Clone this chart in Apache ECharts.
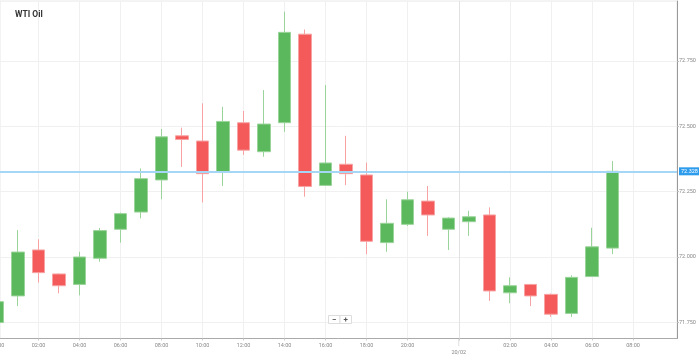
<!DOCTYPE html>
<html><head><meta charset="utf-8">
<script src="https://cdn.jsdelivr.net/npm/echarts@6/dist/echarts.min.js"></script>
<style>html,body{margin:0;padding:0;background:#fff}#c{width:699px;height:357px}</style>
</head><body><div id="c"></div>
<script>
// hourly slots (one hour missing at the session break, 22:00)
const slots = [0,1,2,3,4,5,6,7,8,9,10,11,12,13,14,15,16,17,18,19,20,21,22,23,24,25,26,27,28,29,30];
const times = ['00:00','01:00','02:00','03:00','04:00','05:00','06:00','07:00','08:00','09:00','10:00','11:00','12:00','13:00','14:00','15:00','16:00','17:00','18:00','19:00','20:00','21:00','23:00','00:00','01:00','02:00','03:00','04:00','05:00','06:00','07:00'];
const opens  = [71.749,71.851,72.027,71.935,71.895,71.995,72.106,72.172,72.295,72.464,72.444,72.325,72.514,72.403,72.514,72.853,72.274,72.355,72.314,72.055,72.125,72.214,72.106,72.135,72.161,71.863,71.895,71.857,71.784,71.925,72.034];
const closes = [71.829,72.019,71.940,71.890,72.000,72.101,72.166,72.300,72.460,72.450,72.319,72.519,72.409,72.509,72.860,72.270,72.360,72.319,72.060,72.129,72.219,72.161,72.149,72.154,71.870,71.890,71.851,71.781,71.922,72.039,72.328];
const lows   = [71.745,71.812,71.902,71.861,71.853,71.982,72.055,72.148,72.221,72.345,72.209,72.272,72.391,72.384,72.479,72.231,72.272,72.275,72.011,72.020,72.119,72.081,72.027,72.081,71.832,71.823,71.812,71.771,71.771,71.924,72.011];
const highs  = [71.835,72.103,72.068,71.937,72.020,72.111,72.170,72.339,72.490,72.495,72.588,72.575,72.559,72.639,72.939,72.871,72.658,72.464,72.361,72.221,72.250,72.272,72.152,72.177,72.190,71.922,71.897,71.860,71.930,72.112,72.367];

const xTickSlots  = [2,4,6,8,10,12,14,16,18,20,22.5,25,27,29,31];
const xTickLabels = ['02:00','04:00','06:00','08:00','10:00','12:00','14:00','16:00','18:00','20:00','20/02','02:00','04:00','06:00','08:00'];
const firstLabelSlot = 0, firstLabel = '00:00';
const yTickValues = [71.75,72.0,72.25,72.5,72.75];
const daySplit = 22.5;
const lastPrice = closes[closes.length-1];

const FONT = 'Roboto';
const chart = echarts.init(document.getElementById('c'), null, {renderer:'canvas'});
const candleData = slots.map((s,i)=>[s, opens[i], closes[i], lows[i], highs[i]]);

chart.setOption({
  animation:false,
  backgroundColor:'#fff',
  title:{text:'WTI Oil', left:10, top:5, textStyle:{fontSize:8.5, fontWeight:'bold', color:'#333', fontFamily:FONT}},
  grid:{left:0, right:22, top:1, bottom:18.5, show:true, borderColor:'#e8e8e8', borderWidth:1, backgroundColor:'transparent'},
  xAxis:{
    type:'value', min:0.122, max:33.146,
    axisLine:{show:true, lineStyle:{color:'#aaa', width:1}},
    axisTick:{show:true, customValues:xTickSlots, length:2, lineStyle:{color:'#ccc'}},
    axisLabel:{customValues:xTickSlots, fontSize:5.5, color:'#888', margin:4, fontFamily:FONT,
      formatter:(v)=>{ const i = xTickSlots.findIndex(t=>Math.abs(t-v)<1e-6); if(i<0) return ''; const t = xTickLabels[i]; return t.indexOf('/')>=0 ? '{d|'+t+'}' : t; },
      rich:{d:{fontSize:5.5, color:'#888', padding:[7,0,0,0], fontFamily:FONT}}},
    splitLine:{show:true, lineStyle:{color:'#f0f0f0', width:1}}
  },
  yAxis:{
    type:'value', position:'right', min:71.688, max:72.98, scale:true,
    axisLine:{show:true, lineStyle:{color:'#999', width:1}},
    axisTick:{show:true, customValues:yTickValues, length:2, lineStyle:{color:'#bbb'}},
    axisLabel:{customValues:yTickValues, fontSize:5.5, color:'#888', margin:2, fontFamily:FONT, formatter:(v)=>v.toFixed(3)},
    splitLine:{show:true, lineStyle:{color:'#f0f0f0', width:1}}
  },
  series:[{
    type:'candlestick',
    data:candleData,
    encode:{x:0, y:[1,2,3,4]},
    barWidth:13,
    clip:true,
    itemStyle:{color:'#5cb85c', color0:'#f55a5a', borderColor:'#9ad49a', borderColor0:'#f7a3a3', borderWidth:1},
    markLine:{
      silent:true, symbol:'none', animation:false, precision:3,
      data:[
        {xAxis:daySplit, lineStyle:{color:'#e2e2e2', width:1, type:'solid'}, label:{show:false}},
        {yAxis:lastPrice, lineStyle:{color:'#a6d6f5', width:2, type:'solid'},
         label:{show:true, position:'end', distance:2, formatter:(p)=>Number(p.value).toFixed(3),
           backgroundColor:'#2d9cec', color:'#fff', fontSize:5.5, padding:[1,2,1,2], fontFamily:FONT}}
      ]
    }
  }]
});

// decorations positioned through the library's scales
const dayPx = chart.convertToPixel({xAxisIndex:0}, daySplit);
const firstPx = chart.convertToPixel({xAxisIndex:0}, firstLabelSlot);
const axisY = chart.convertToPixel({yAxisIndex:0}, 71.688);
chart.setOption({
  graphic:[
    {type:'line', shape:{x1:dayPx, y1:axisY, x2:dayPx, y2:axisY+8}, style:{stroke:'#bbb', lineWidth:1, lineDash:[1,1]}},
    {type:'text', x:firstPx, y:axisY+4, style:{text:firstLabel, fontSize:5.5, fill:'#888', align:'center', verticalAlign:'top', fontFamily:FONT}},
    {type:'group', left:328, top:315, children:[
      {type:'rect', shape:{x:0,y:0,width:11.5,height:8}, style:{fill:'#fff', stroke:'#ddd', lineWidth:1}},
      {type:'rect', shape:{x:11.5,y:0,width:11.5,height:8}, style:{fill:'#fff', stroke:'#ddd', lineWidth:1}},
      {type:'text', x:5.75, y:4, style:{text:'−', fontSize:8, fontWeight:'bold', fill:'#555', align:'center', verticalAlign:'middle', fontFamily:FONT}},
      {type:'text', x:17.25, y:4, style:{text:'+', fontSize:8, fontWeight:'bold', fill:'#555', align:'center', verticalAlign:'middle', fontFamily:FONT}}
    ]}
  ]
});
</script>
</body></html>
